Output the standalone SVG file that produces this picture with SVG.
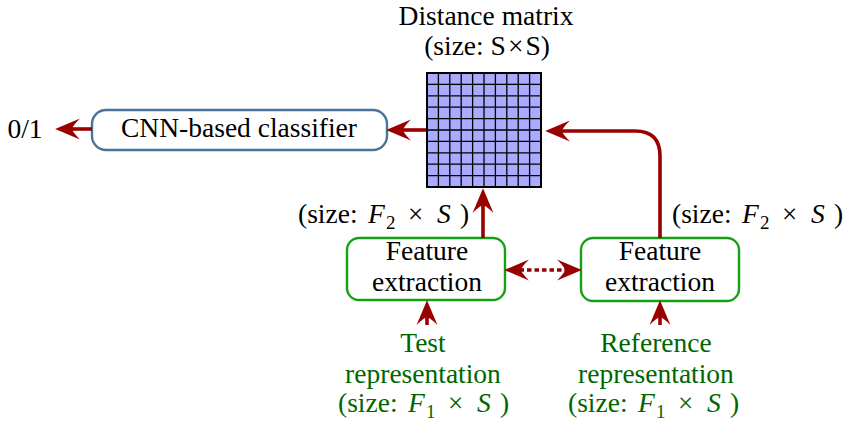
<svg xmlns="http://www.w3.org/2000/svg" width="851" height="425" viewBox="0 0 851 425">
<style>
text{font-family:"Liberation Serif","Times New Roman",serif;font-size:27.5px;fill:#000}
.c{text-anchor:middle}
.g{fill:#006600}
.i{font-style:italic}
.sub{font-size:19px}
.x{font-size:27px}
.conn{fill:none;stroke:#990000;stroke-width:3.6}
.feat{fill:#fff;stroke:#16a016;stroke-width:2.4}
.cnn{fill:#fff;stroke:#4d7399;stroke-width:2.4}
.grid{stroke:#000;stroke-width:1.3}
</style>
<defs>
<marker id="ah" markerUnits="userSpaceOnUse" markerWidth="30" markerHeight="30" viewBox="-15 -10 23 20" refX="0" refY="0" orient="auto-start-reverse">
<path d="M6,0 L-13,-8 Q-7,-2 -7,0 Q-7,2 -13,8 Z" fill="#990000"/>
</marker>
</defs>
<g id="matrix">
<text class="c" x="486" y="25">Distance matrix</text>
<text class="c" x="487" y="55">(size: S<tspan dx="2">×</tspan><tspan dx="2">S</tspan>)</text>
<rect x="427" y="73" width="114" height="114" fill="#aaaaff"/>
<path class="grid" d="M438.4,73V187M449.8,73V187M461.2,73V187M472.6,73V187M484,73V187M495.4,73V187M506.8,73V187M518.2,73V187M529.6,73V187M427,84.4H541M427,95.8H541M427,107.2H541M427,118.6H541M427,130H541M427,141.4H541M427,152.8H541M427,164.2H541M427,175.6H541"/>
<rect x="427" y="73" width="114" height="114" fill="none" stroke="#000" stroke-width="2"/>
</g>
<g id="cnn">
<rect class="cnn" x="92" y="110" width="295" height="40" rx="14"/>
<text class="c" x="239" y="137">CNN-based classifier</text>
</g>
<g id="output">
<text class="c" x="25" y="138">0/1</text>
</g>
<g id="feat1">
<rect class="feat" x="347" y="238" width="158" height="62" rx="12"/>
<text class="c" x="427" y="260">Feature</text>
<text class="c" x="427" y="291">extraction</text>
</g>
<g id="feat2">
<rect class="feat" x="581" y="238" width="158" height="63" rx="12"/>
<text class="c" x="660" y="260">Feature</text>
<text class="c" x="660" y="291">extraction</text>
</g>
<g id="label1">
<text x="298" y="223">(size:<tspan class="i" x="368">F</tspan><tspan class="sub" x="386" dy="6">2</tspan><tspan class="x" x="408" dy="-6">×</tspan><tspan class="i" x="437">S</tspan><tspan x="460">)</tspan></text>
</g>
<g id="label2">
<text x="672" y="223">(size:<tspan class="i" x="742">F</tspan><tspan class="sub" x="760" dy="6">2</tspan><tspan class="x" x="782" dy="-6">×</tspan><tspan class="i" x="811">S</tspan><tspan x="834">)</tspan></text>
</g>
<g id="test">
<text class="c g" x="423" y="352">Test</text>
<text class="c g" x="423" y="383">representation</text>
<text class="g" x="338" y="412">(size:<tspan class="i" x="408">F</tspan><tspan class="sub" x="426" dy="6">1</tspan><tspan class="x" x="448" dy="-6">×</tspan><tspan class="i" x="477">S</tspan><tspan x="500">)</tspan></text>
</g>
<g id="ref">
<text class="c g" x="656" y="352">Reference</text>
<text class="c g" x="656" y="383">representation</text>
<text class="g" x="568" y="412">(size:<tspan class="i" x="638">F</tspan><tspan class="sub" x="656" dy="6">1</tspan><tspan class="x" x="678" dy="-6">×</tspan><tspan class="i" x="707">S</tspan><tspan x="730">)</tspan></text>
</g>
<g id="connectors">
<path class="conn" d="M92,129H63" marker-end="url(#ah)"/>
<path class="conn" d="M426,130H394" marker-end="url(#ah)"/>
<path class="conn" d="M660,238V156Q660,131 635,131H553" marker-end="url(#ah)"/>
<path class="conn" d="M483,238V196" marker-end="url(#ah)"/>
<path class="conn" d="M512,270H574" stroke-dasharray="4.5 3" marker-start="url(#ah)" marker-end="url(#ah)"/>
<path class="conn" d="M427,325V308" marker-end="url(#ah)"/>
<path class="conn" d="M660,325V308" marker-end="url(#ah)"/>
</g>
</svg>
